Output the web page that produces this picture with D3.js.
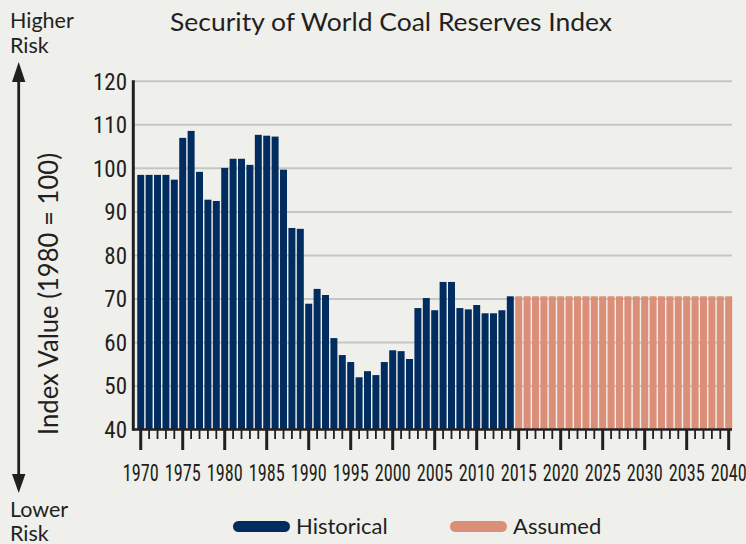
<!DOCTYPE html>
<html>
<head>
<meta charset="utf-8">
<script src="https://cdn.jsdelivr.net/npm/d3@7"></script>
<style>
  html, body { margin: 0; padding: 0; background: #efefeb; }
  svg { display: block; }
</style>
</head>
<body>
<svg id="chart" width="746" height="544"></svg>
<script>
// ---- Data ----
const historicalYears = [1970,1971,1972,1973,1974,1975,1976,1977,1978,1979,
  1980,1981,1982,1983,1984,1985,1986,1987,1988,1989,
  1990,1991,1992,1993,1994,1995,1996,1997,1998,1999,
  2000,2001,2002,2003,2004,2005,2006,2007,2008,2009,
  2010,2011,2012,2013,2014];
const historicalValues = [98.5,98.5,98.5,98.5,97.4,107.0,108.6,99.2,92.8,92.5,
  100.1,102.2,102.2,100.8,107.7,107.5,107.3,99.7,86.3,86.1,
  68.9,72.3,70.9,61.0,57.1,55.5,52.0,53.4,52.5,55.5,
  58.2,58.0,56.2,67.9,70.2,67.4,73.9,73.9,67.9,67.6,
  68.6,66.7,66.7,67.4,70.6];
const assumedYears = [2015,2016,2017,2018,2019,2020,2021,2022,2023,2024,
  2025,2026,2027,2028,2029,2030,2031,2032,2033,2034,
  2035,2036,2037,2038,2039,2040];
const assumedValues = [70.6,70.6,70.6,70.6,70.6,70.6,70.6,70.6,70.6,70.6,
  70.6,70.6,70.6,70.6,70.6,70.6,70.6,70.6,70.6,70.6,
  70.6,70.6,70.6,70.6,70.6,70.6];
const yTicks = [40,50,60,70,80,90,100,110,120];
const xTickLabels = [1970,1975,1980,1985,1990,1995,2000,2005,2010,2015,2020,2025,2030,2035,2040];
const seriesNames = ["Historical","Assumed"];
const titleText = "Security of World Coal Reserves Index";
const yAxisTitle = "Index Value (1980 = 100)";

// ---- Styles ----
const NAVY = "#002c5f", SALMON = "#db8f79", INK = "#231f20", GRID = "#c6c6c4";
const FONT = "Lato, 'Noto Sans', sans-serif";
const NARROW = "'Liberation Sans Narrow', 'Arial Narrow', 'Roboto Condensed', sans-serif";

const svg = d3.select("#chart");
svg.append("rect").attr("width", 746).attr("height", 544).attr("fill", "#efefeb");

const allYears = historicalYears.concat(assumedYears);
const x = d3.scaleBand().domain(allYears).range([135.8, 733.6]).padding(0.17);
const y = d3.scaleLinear().domain([40, 120]).range([429.5, 81.3]);
const xLeft = 133.3, xRight = 732;

// gridlines
svg.append("g").selectAll("line").data(yTicks.filter(d => d > 40)).join("line")
  .attr("x1", xLeft).attr("x2", xRight)
  .attr("y1", d => y(d)).attr("y2", d => y(d))
  .attr("stroke", GRID).attr("stroke-width", 2);

// bars
const bars = svg.append("g");
bars.selectAll("rect.h").data(historicalYears.map((yr, i) => ({yr, v: historicalValues[i]})))
  .join("rect").attr("class", "h")
  .attr("x", d => x(d.yr)).attr("width", x.bandwidth())
  .attr("y", d => y(d.v)).attr("height", d => y(40) - y(d.v))
  .attr("fill", NAVY);
bars.selectAll("rect.a").data(assumedYears.map((yr, i) => ({yr, v: assumedValues[i]})))
  .join("rect").attr("class", "a")
  .attr("x", d => x(d.yr)).attr("width", x.bandwidth())
  .attr("y", d => y(d.v)).attr("height", d => y(40) - y(d.v))
  .attr("fill", SALMON);

// x axis ticks
const cx = d => x(d) + x.bandwidth() / 2;
svg.append("g").selectAll("line").data(allYears).join("line")
  .attr("x1", cx).attr("x2", cx)
  .attr("y1", y(40))
  .attr("y2", d => xTickLabels.includes(d) ? 450 : 439)
  .attr("stroke", INK)
  .attr("stroke-width", d => xTickLabels.includes(d) ? 3 : 1.8);

// axis lines
svg.append("line").attr("x1", xLeft).attr("x2", xRight).attr("y1", y(40)).attr("y2", y(40))
  .attr("stroke", INK).attr("stroke-width", 2.6);
svg.append("line").attr("x1", xLeft).attr("x2", xLeft).attr("y1", y(120) - 1).attr("y2", y(40) + 1.3)
  .attr("stroke", INK).attr("stroke-width", 3);

// x labels
svg.append("g").selectAll("text").data(xTickLabels).join("text")
  .attr("x", cx).attr("y", 481)
  .attr("text-anchor", "middle")
  .attr("font-family", NARROW).attr("font-size", 23)
  .attr("textLength", 36).attr("lengthAdjust", "spacingAndGlyphs")
  .attr("fill", INK).text(d => d);

// y labels
svg.append("g").selectAll("text").data(yTicks).join("text")
  .attr("x", 127).attr("y", d => y(d)).attr("dy", "0.36em")
  .attr("text-anchor", "end")
  .attr("font-family", NARROW).attr("font-size", 23)
  .attr("fill", INK).text(d => d);

// title
svg.append("text").attr("x", 391).attr("y", 31).attr("text-anchor", "middle")
  .attr("font-family", FONT).attr("font-size", 25)
  .attr("textLength", 442).attr("lengthAdjust", "spacingAndGlyphs")
  .attr("fill", INK).text(titleText);

// y axis title
svg.append("text").attr("transform", "translate(58,294) rotate(-90)")
  .attr("text-anchor", "middle")
  .attr("font-family", FONT).attr("font-size", 26)
  .attr("textLength", 282).attr("lengthAdjust", "spacingAndGlyphs")
  .attr("fill", INK).text(yAxisTitle);

// risk labels
const riskG = svg.append("g").attr("font-family", FONT).attr("font-size", 21.5).attr("fill", INK);
riskG.append("text").attr("x", 10).attr("y", 28).text("Higher");
riskG.append("text").attr("x", 10).attr("y", 53).text("Risk");
riskG.append("text").attr("x", 10).attr("y", 517).text("Lower");
riskG.append("text").attr("x", 10).attr("y", 541).text("Risk");

// arrow
svg.append("line").attr("x1", 18.7).attr("x2", 18.7).attr("y1", 78).attr("y2", 478)
  .attr("stroke", INK).attr("stroke-width", 2.8);
svg.append("path").attr("d", "M18.7,62 L25.4,82 L12,82 Z").attr("fill", INK);
svg.append("path").attr("d", "M18.7,493 L25.4,474 L12,474 Z").attr("fill", INK);

// legend
const legend = [
  {name: seriesNames[0], color: NAVY, sx: 233, tx: 296},
  {name: seriesNames[1], color: SALMON, sx: 450, tx: 513}
];
const lg = svg.append("g");
lg.selectAll("rect").data(legend).join("rect")
  .attr("x", d => d.sx).attr("y", 521).attr("width", 57).attr("height", 11)
  .attr("rx", 5.5).attr("fill", d => d.color);
lg.selectAll("text").data(legend).join("text")
  .attr("x", d => d.tx).attr("y", 534)
  .attr("font-family", FONT).attr("font-size", 22)
  .attr("fill", INK).text(d => d.name);
</script>
</body>
</html>
